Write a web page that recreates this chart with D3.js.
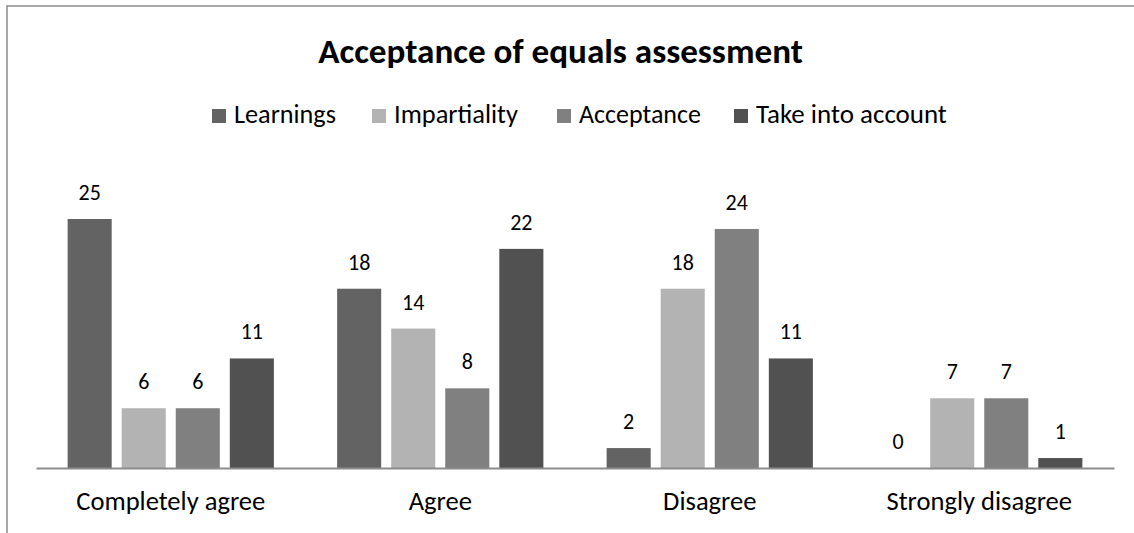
<!DOCTYPE html>
<html>
<head>
<meta charset="utf-8">
<script src="https://cdn.jsdelivr.net/npm/d3@7"></script>
<style>
  html, body { margin: 0; padding: 0; background: #fff; }
  svg { display: block; }
  text { font-family: Carlito, Lato, "Open Sans", sans-serif; fill: #000; }
</style>
</head>
<body>
<svg id="chart" width="1134" height="533"></svg>
<script>
const title = "Acceptance of equals assessment";
const categories = ["Completely agree", "Agree", "Disagree", "Strongly disagree"];
const seriesNames = ["Learnings", "Impartiality", "Acceptance", "Take into account"];
const learnings = [25, 18, 2, 0];
const impartiality = [6, 14, 18, 7];
const acceptance = [6, 8, 24, 7];
const takeIntoAccount = [11, 22, 11, 1];
const seriesColors = ["#636363", "#b3b3b3", "#808080", "#515151"];

const seriesValues = [learnings, impartiality, acceptance, takeIntoAccount];

const svg = d3.select("#chart");
const W = 1134, H = 533;

// frame
svg.append("rect").attr("x", 7).attr("y", 6).attr("width", W + 20).attr("height", H + 20)
  .attr("fill", "#fff").attr("stroke", "#8a8a8a").attr("stroke-width", 1.5);

function fitWidth(sel, target) {
  const fs = parseFloat(sel.attr("font-size"));
  const w = sel.node().getComputedTextLength();
  const nf = fs * target / w;
  sel.attr("font-size", nf);
  return nf;
}

// title
const t = svg.append("text").attr("x", 560.5).attr("y", 63).attr("text-anchor", "middle")
  .attr("font-size", 28).attr("font-weight", "bold").text(title);
fitWidth(t, 485);

// plot area
const x0 = d3.scaleBand().domain(categories).range([36, 1114]).paddingInner(0).paddingOuter(0);
const x1 = d3.scaleBand().domain(seriesNames).range([0, x0.bandwidth()]).paddingInner(0.185).paddingOuter(0.585);
const y = d3.scaleLinear().domain([0, 25]).range([468, 219]);

const groups = svg.append("g").selectAll("g").data(categories).join("g")
  .attr("transform", d => `translate(${x0(d)},0)`);

groups.each(function(cat, ci) {
  const g = d3.select(this);
  seriesNames.forEach((s, si) => {
    const v = seriesValues[si][ci];
    g.append("rect")
      .attr("x", x1(s)).attr("width", x1.bandwidth())
      .attr("y", y(v)).attr("height", y(0) - y(v))
      .attr("fill", seriesColors[si]);
    g.append("text")
      .attr("x", x1(s) + x1.bandwidth() / 2).attr("y", y(v) - 19)
      .attr("text-anchor", "middle").attr("font-size", 22).text(v);
  });
});

// axis
const axis = svg.append("g").attr("transform", `translate(0,${y(0)})`)
  .call(d3.axisBottom(x0).tickSize(0).tickPadding(0));
axis.attr("font-size", null).attr("font-family", null);
axis.select(".domain").attr("stroke", "#8c8c8c").attr("stroke-width", 2);
const ticks = axis.selectAll(".tick text")
  .attr("font-family", "Carlito, Lato, 'Open Sans', sans-serif")
  .attr("fill", "#000").attr("dy", 0).attr("y", 42).attr("font-size", 20);
const firstTick = ticks.filter((d, i) => i === 0);
const catSize = fitWidth(firstTick, 189);
ticks.attr("font-size", catSize);

// legend
const legendX = [212, 372, 557, 734];
const legendTextW = [102, 124, 122, 191];
const lg = svg.append("g").selectAll("g").data(seriesNames).join("g")
  .attr("transform", (d, i) => `translate(${legendX[i]},0)`);
lg.append("rect").attr("x", 0).attr("y", 109).attr("width", 14).attr("height", 14)
  .attr("fill", (d, i) => seriesColors[i]);
lg.append("text").attr("x", 22).attr("y", 123).attr("font-size", 20).text(d => d)
  .each(function(d, i) { fitWidth(d3.select(this), legendTextW[i]); });
</script>
</body>
</html>
